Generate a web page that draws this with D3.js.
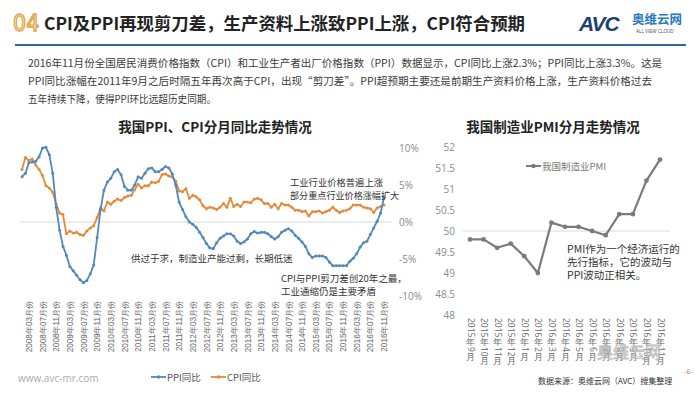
<!DOCTYPE html>
<html><head><meta charset="utf-8">
<script src="https://cdn.jsdelivr.net/npm/d3@7/dist/d3.min.js"></script>
<style>
html,body{margin:0;padding:0;background:#fff;}
svg{display:block;font-family:"Noto Sans CJK SC","Noto Sans",sans-serif;}
</style></head>
<body><svg id="c" width="700" height="394"></svg>
<script>
// ---- data ----
const ppi2008 = [6.1,6.6,8.0,8.1,8.2,8.8,10.0,10.1,9.1,6.6,2.0,-1.1];
const ppi2009 = [-3.3,-4.5,-6.0,-6.6,-7.2,-7.8,-8.2,-7.9,-7.0,-5.8,-2.1,1.7];
const ppi2010 = [4.3,5.4,5.9,6.8,7.1,6.4,4.8,4.3,4.3,5.0,6.1,5.9];
const ppi2011 = [6.6,7.2,7.3,6.8,6.8,7.1,7.5,7.3,6.5,5.0,2.7,1.7];
const ppi2012 = [0.7,0.0,-0.3,-0.7,-1.4,-2.1,-2.9,-3.5,-3.6,-2.8,-2.2,-1.9];
const ppi2013 = [-1.6,-1.6,-1.9,-2.6,-2.9,-2.7,-2.3,-1.6,-1.3,-1.5,-1.4,-1.4];
const ppi2014 = [-1.6,-2.0,-2.3,-2.0,-1.4,-1.1,-0.9,-1.2,-1.8,-2.2,-2.7,-3.3];
const ppi2015 = [-4.3,-4.8,-4.6,-4.6,-4.6,-4.8,-5.4,-5.9,-5.9,-5.9,-5.9,-5.9];
const ppi2016 = [-5.3,-4.9,-4.3,-3.4,-2.8,-2.6,-1.7,-0.8,0.1,1.2,3.3];

const cpi2008 = [7.1,8.7,8.3,8.5,7.7,7.1,6.3,4.9,4.6,4.0,2.4,1.2];
const cpi2009 = [1.0,-1.6,-1.2,-1.5,-1.4,-1.7,-1.8,-1.2,-0.8,-0.5,0.6,1.9];
const cpi2010 = [1.5,2.7,2.4,2.8,3.1,2.9,3.3,3.5,3.6,4.4,5.1,4.6];
const cpi2011 = [4.9,4.9,5.4,5.3,5.5,6.4,6.5,6.2,6.1,5.5,4.2,4.1];
const cpi2012 = [4.5,3.2,3.6,3.4,3.0,2.2,1.8,2.0,1.9,1.7,2.0,2.5];
const cpi2013 = [2.0,3.2,2.1,2.4,2.1,2.7,2.7,2.6,3.1,3.2,3.0,2.5];
const cpi2014 = [2.5,2.0,2.4,1.8,2.5,2.3,2.3,2.0,1.6,1.6,1.4,1.5];
const cpi2015 = [0.8,1.4,1.4,1.5,1.2,1.4,1.6,2.0,1.6,1.3,1.5,1.6];
const cpi2016 = [1.8,2.3,2.3,2.3,2.0,1.9,1.8,1.3,1.9,2.1,2.3];

const years = [2008,2009,2010,2011,2012,2013,2014,2015,2016];
const leftTickLabels = ["2008年03月份","2008年07月份","2008年11月份","2009年03月份","2009年07月份","2009年11月份",
 "2010年03月份","2010年07月份","2010年11月份","2011年03月份","2011年07月份","2011年11月份",
 "2012年03月份","2012年07月份","2012年11月份","2013年03月份","2013年07月份","2013年11月份",
 "2014年03月份","2014年07月份","2014年11月份","2015年03月份","2015年07月份","2015年11月份",
 "2016年03月份","2016年07月份","2016年11月份"];
const leftYTicks = [10,5,0,-5,-10];

const pmiMonths = ["2015年9月","2015年10月","2015年11月","2015年12月","2016年1月","2016年2月","2016年3月",
 "2016年4月","2016年5月","2016年6月","2016年7月","2016年8月","2016年9月","2016年10月","2016年11月"];
const pmiValues = [49.8,49.8,49.6,49.7,49.4,49.0,50.2,50.1,50.1,50.0,49.9,50.4,50.4,51.2,51.7];
const pmiYTicks = [48,48.5,49,49.5,50,50.5,51,51.5,52];

// ---- build ----
const ppi = [].concat(ppi2008,ppi2009,ppi2010,ppi2011,ppi2012,ppi2013,ppi2014,ppi2015,ppi2016);
const cpi = [].concat(cpi2008,cpi2009,cpi2010,cpi2011,cpi2012,cpi2013,cpi2014,cpi2015,cpi2016);
const monthKeys = [];
years.forEach(y=>{ for(let m=1;m<=12;m++){ if(monthKeys.length<ppi.length) monthKeys.push(y+"年"+(m<10?"0"+m:m)+"月份"); } });

const svg = d3.select("#c");
const BLUE = "#5389b8", ORANGE = "#e48a3c", GRAY="#7b7b7b";

// header
svg.append("text").attr("x",13).attr("y",31).attr("fill","#fff").attr("stroke","#e3a33e").attr("stroke-width",1.3)
  .attr("font-size",23).attr("font-weight",400).attr("font-family","DejaVu Sans Condensed, Liberation Sans Narrow, sans-serif").text("04");
svg.append("text").attr("x",44).attr("y",30).attr("fill","#222").attr("font-size",17.5).attr("font-weight",700)
  .attr("textLength",481).attr("lengthAdjust","spacingAndGlyphs")
  .text("CPI及PPI再现剪刀差，生产资料上涨致PPI上涨，CPI符合预期");
svg.append("text").attr("x",579).attr("y",31).attr("fill","#1d3f73").attr("font-size",21).attr("font-weight",700)
  .attr("font-style","italic").attr("font-family","Liberation Sans, Arial, sans-serif").attr("letter-spacing",-1).text("AVC");
svg.append("text").attr("x",632).attr("y",24).attr("fill","#2a78bd").attr("font-size",12.5).attr("font-weight",700).text("奥维云网");
svg.append("text").attr("x",636).attr("y",33).attr("fill","#555").attr("font-size",4.5).attr("font-family","Liberation Sans, sans-serif").text("ALL VIEW CLOUD");
svg.append("line").attr("x1",15).attr("x2",686).attr("y1",45).attr("y2",45).attr("stroke","#2d6aa3").attr("stroke-width",2);

// paragraph
const para = [
 {t:"2016年11月份全国居民消费价格指数（CPI）和工业生产者出厂价格指数（PPI）数据显示，CPI同比上涨2.3%；PPI同比上涨3.3%。这是", w:634},
 {t:"PPI同比涨幅在2011年9月之后时隔五年再次高于CPI，出现“剪刀差”。PPI超预期主要还是前期生产资料价格上涨，生产资料价格过去", w:624},
 {t:"五年持续下降，使得PPI环比远超历史同期。", w:188}
];
para.forEach((p,i)=>{
  svg.append("text").attr("x",28).attr("y",67+i*18).attr("fill","#3a3a3a").attr("font-size",10.5)
    .attr("textLength",p.w).attr("lengthAdjust","spacingAndGlyphs").text(p.t);
});

// ---- left chart ----
const gL = svg.append("g");
gL.append("text").attr("x",215).attr("y",132).attr("text-anchor","middle").attr("font-size",13.5).attr("font-weight",700).attr("fill","#222")
  .text("我国PPI、CPI分月同比走势情况");

const xL = d3.scalePoint().domain(monthKeys).range([22,384]);
const yL = d3.scaleLinear().domain([-10,10]).range([296,148]);

gL.append("line").attr("x1",20).attr("x2",392).attr("y1",yL(0)).attr("y2",yL(0)).attr("stroke","#d9d9d9").attr("stroke-width",1);

const yAxisL = d3.axisRight(yL).tickValues(leftYTicks).tickSize(0).tickPadding(0).tickFormat(d=>d+"%");
const ayl = gL.append("g").attr("transform","translate(399,0)").call(yAxisL);
ayl.select(".domain").remove();
ayl.selectAll("text").attr("font-size",10).attr("fill","#8a8a8a").attr("font-family","Open Sans, Noto Sans, sans-serif");

const xAxisL = d3.axisBottom(xL).tickValues(leftTickLabels).tickSize(0).tickPadding(0);
const axl = gL.append("g").attr("transform","translate(0,301)").call(xAxisL);
axl.select(".domain").remove();
axl.selectAll("text").attr("font-size",8.2).attr("fill","#666").attr("text-anchor","end")
  .attr("dy","0.32em").attr("dx",0).attr("transform","rotate(-90)").attr("y",0).attr("x",0);

function drawSeries(g, data, color, x, y){
  const line = d3.line().x((d,i)=>x(monthKeys[i])).y(d=>y(d));
  g.append("path").datum(data).attr("d",line).attr("fill","none").attr("stroke",color).attr("stroke-width",1.8).attr("stroke-linejoin","round");
  g.selectAll(null).data(data).enter().append("circle").attr("cx",(d,i)=>x(monthKeys[i])).attr("cy",d=>y(d)).attr("r",1.5).attr("fill",color);
}
drawSeries(gL, cpi, ORANGE, xL, yL);
drawSeries(gL, ppi, BLUE, xL, yL);

const ann = [
 {x:290,y:186,t:"工业行业价格普遍上涨",s:9.3},
 {x:290,y:199,t:"部分重点行业价格涨幅扩大",s:9.1},
 {x:131,y:262,t:"供过于求，制造业产能过剩，长期低迷",s:9.5},
 {x:281,y:282,t:"CPI与PPI剪刀差创20年之最，",s:9.5},
 {x:281,y:295,t:"工业通缩仍是主要矛盾",s:9.5}
];
ann.forEach(a=>gL.append("text").attr("x",a.x).attr("y",a.y).attr("font-size",a.s).attr("fill","#333").text(a.t));

// left legend
[{c:BLUE,t:"PPI同比",x:151},{c:ORANGE,t:"CPI同比",x:211}].forEach(l=>{
  gL.append("line").attr("x1",l.x).attr("x2",l.x+15).attr("y1",377).attr("y2",377).attr("stroke",l.c).attr("stroke-width",1.8);
  gL.append("circle").attr("cx",l.x+7.5).attr("cy",377).attr("r",1.8).attr("fill",l.c);
  gL.append("text").attr("x",l.x+16).attr("y",381).attr("font-size",9.5).attr("fill","#555").text(l.t);
});
svg.append("text").attr("x",18).attr("y",382).attr("font-size",10).attr("fill","#aaa").attr("font-family","Open Sans, sans-serif").text("www.avc-mr.com");

// ---- right chart ----
const gR = svg.append("g");
gR.append("text").attr("x",553).attr("y",132).attr("text-anchor","middle").attr("font-size",13.5).attr("font-weight",700).attr("fill","#222")
  .text("我国制造业PMI分月走势情况");
const xR = d3.scalePoint().domain(pmiMonths).range([470,660]);
const yR = d3.scaleLinear().domain([48,52]).range([315,147]);

gR.append("line").attr("x1",463).attr("x2",670).attr("y1",yR(50)).attr("y2",yR(50)).attr("stroke","#d9d9d9");

const ayr = gR.append("g").attr("transform","translate(455,0)")
  .call(d3.axisLeft(yR).tickValues(pmiYTicks).tickSize(0).tickPadding(0).tickFormat(d=>String(d)));
ayr.select(".domain").remove();
ayr.selectAll("text").attr("font-size",10).attr("fill","#8a8a8a").attr("font-family","Open Sans, Noto Sans, sans-serif");

// vertical labels: digits rotated, CJK upright
const axr = gR.append("g").attr("transform","translate(0,318)")
  .call(d3.axisBottom(xR).tickSize(0).tickPadding(0));
axr.select(".domain").remove();
axr.selectAll(".tick").each(function(d){
  const tk = d3.select(this);
  tk.select("text").remove();
  const fs = 8.5;
  let y = 0;
  const runs = d.match(/[0-9A-Za-z.]+|[^0-9A-Za-z.]/g);
  runs.forEach(r=>{
    if(/^[0-9A-Za-z.]+$/.test(r)){
      const t = tk.append("text").attr("transform",`translate(0,${y}) rotate(90)`)
        .attr("font-size",fs).attr("fill","#666").attr("text-anchor","start").attr("dy","0.35em")
        .attr("font-family","Open Sans, Noto Sans, sans-serif").text(r);
      y += t.node().getComputedTextLength() + 0.5;
    } else {
      tk.append("text").attr("x",0).attr("y",y+fs*0.86).attr("font-size",fs).attr("fill","#666")
        .attr("text-anchor","middle").text(r);
      y += fs + 0.5;
    }
  });
});

const lineR = d3.line().x((d,i)=>xR(pmiMonths[i])).y(d=>yR(d));
gR.append("path").datum(pmiValues).attr("d",lineR).attr("fill","none").attr("stroke",GRAY).attr("stroke-width",2.2).attr("stroke-linejoin","round");
gR.selectAll(null).data(pmiValues).enter().append("circle").attr("cx",(d,i)=>xR(pmiMonths[i])).attr("cy",d=>yR(d)).attr("r",2.4).attr("fill",GRAY);

gR.append("line").attr("x1",526).attr("x2",541).attr("y1",166).attr("y2",166).attr("stroke",GRAY).attr("stroke-width",2);
gR.append("circle").attr("cx",533.5).attr("cy",166).attr("r",2.2).attr("fill",GRAY);
gR.append("text").attr("x",542).attr("y",170).attr("font-size",9.5).attr("fill","#777").text("我国制造业PMI");

[{y:253,t:"PMI作为一个经济运行的"},{y:266,t:"先行指标，它的波动与"},{y:279,t:"PPI波动正相关。"}]
 .forEach(a=>gR.append("text").attr("x",567).attr("y",a.y).attr("font-size",10.5).attr("fill","#333").text(a.t));

svg.append("text").attr("x",538).attr("y",384).attr("font-size",8).attr("fill","#333").text("数据来源：奥维云网（AVC）搜集整理");
svg.append("text").attr("x",684).attr("y",374).attr("font-size",7).attr("fill","#c98a4a").text("-6-");
svg.append("text").attr("x",597).attr("y",358).attr("font-size",16).attr("fill","#fff").attr("stroke","#aaa").attr("stroke-width",0.8)
  .attr("opacity",0.8).text("奥维云网");
</script></body></html>
